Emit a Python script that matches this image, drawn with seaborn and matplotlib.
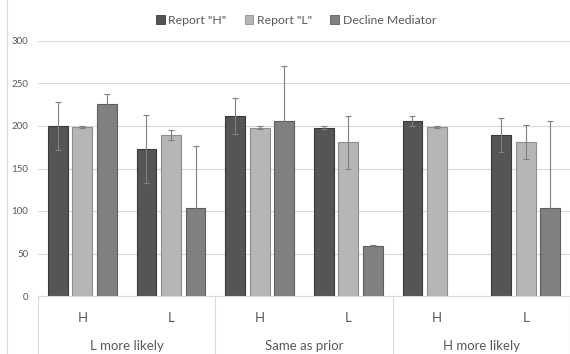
import numpy as np
import pandas as pd
import matplotlib
matplotlib.use("Agg")
import matplotlib.pyplot as plt
import matplotlib.transforms as mtransforms
from matplotlib.lines import Line2D
from matplotlib.patches import Patch
import seaborn as sns

# Outer groups, inner reports and series
groups = ["L more likely", "Same as prior", "H more likely"]
reports = ["H", "L"]
series = ['Report "H"', 'Report "L"', "Decline Mediator"]

# Mean values per (group, report) in order, one list per series
report_h = [200, 173, 212, 198, 206, 189]
report_l = [199, 189, 198, 181, 199, 181]
decline = [226, 104, 206, 59, np.nan, 104]

# Symmetric error half-widths
err_report_h = [28, 40, 21, 2, 6, 20]
err_report_l = [1, 6, 2, 31, 1, 20]
err_decline = [12, 72, 65, 1, 0, 102]

colors = ["#555555", "#b6b6b6", "#808080"]
edges = ["#3a3a3a", "#8e8e8e", "#5e5e5e"]
text_color = "#595959"
grid_color = "#d9d9d9"

cats = [f"{g}|{r}" for g in groups for r in reports]
values = [report_h, report_l, decline]
errors = [err_report_h, err_report_l, err_decline]

rows = []
for s, vals in zip(series, values):
    for c, v in zip(cats, vals):
        rows.append({"cat": c, "series": s, "value": v})
df = pd.DataFrame(rows).dropna()

sns.set_theme(style="white")
plt.rcParams["font.family"] = ["Lato", "DejaVu Sans"]

fig = plt.figure(figsize=(5.7, 3.54), dpi=100)
ax = fig.add_axes([38 / 570, 1 - 296 / 354, 532 / 570, 255 / 354])

sns.barplot(data=df, x="cat", y="value", hue="series", order=cats,
            hue_order=series, palette=colors, width=0.83, gap=0.19,
            errorbar=None, legend=False, ax=ax, saturation=1)

# Bar edges and error bars from each drawn bar
bar_containers = list(ax.containers)
for k, cont in enumerate(bar_containers):
    for bar in cont:
        if bar is None:
            continue
        bar.set_edgecolor(edges[k])
        bar.set_linewidth(0.8)
        xc = bar.get_x() + bar.get_width() / 2
        h = bar.get_height()
        idx = int(round(xc))
        e = errors[k][idx]
        if e > 0:
            ax.errorbar(xc, h, yerr=e, fmt="none", ecolor="#7f7f7f",
                        elinewidth=0.8, capsize=2.3, capthick=0.8, zorder=5)

ax.set_xlim(-0.5, len(cats) - 0.5)
ax.set_ylim(0, 300)
ax.set_yticks(np.arange(0, 301, 50))
ax.yaxis.grid(True, color=grid_color, linewidth=0.8)
ax.set_axisbelow(True)
ax.tick_params(axis="y", length=0, pad=7, labelsize=7, labelcolor=text_color)
ax.set_xticks([])
ax.set_xlabel("")
ax.set_ylabel("")
for sp in ["top", "right", "left"]:
    ax.spines[sp].set_visible(False)
ax.spines["bottom"].set_color(grid_color)
ax.spines["bottom"].set_linewidth(0.8)

# Two-level category axis
trans = mtransforms.blended_transform_factory(ax.transData, ax.transAxes)
for i, c in enumerate(cats):
    ax.text(i, -22 / 255, c.split("|")[1], transform=trans, ha="center",
            va="center", fontsize=9.5, color=text_color)
for j, g in enumerate(groups):
    ax.text(2 * j + 0.5, -50 / 255, g, transform=trans, ha="center",
            va="center", fontsize=9.5, color=text_color)
for xd in [-0.5, 1.5, 3.5, 5.5]:
    ax.add_line(Line2D([xd, xd], [0, -58 / 255], transform=trans,
                       color=grid_color, linewidth=0.8, clip_on=False))

# Chart-area border on the left
fig.add_artist(Line2D([7 / 570, 7 / 570], [0, 1], transform=fig.transFigure,
                      color=grid_color, linewidth=0.8))

handles = [Patch(facecolor=col, edgecolor=ed, linewidth=0.6)
           for col, ed in zip(colors, edges)]
fig.legend(handles, series, loc="center", bbox_to_anchor=(296 / 570, 1 - 20 / 354),
           ncol=3, frameon=False, fontsize=8.8, labelcolor=text_color,
           handlelength=0.7, handleheight=0.7, handletextpad=0.3,
           columnspacing=1.5)

fig.savefig("out.png", dpi=100)
